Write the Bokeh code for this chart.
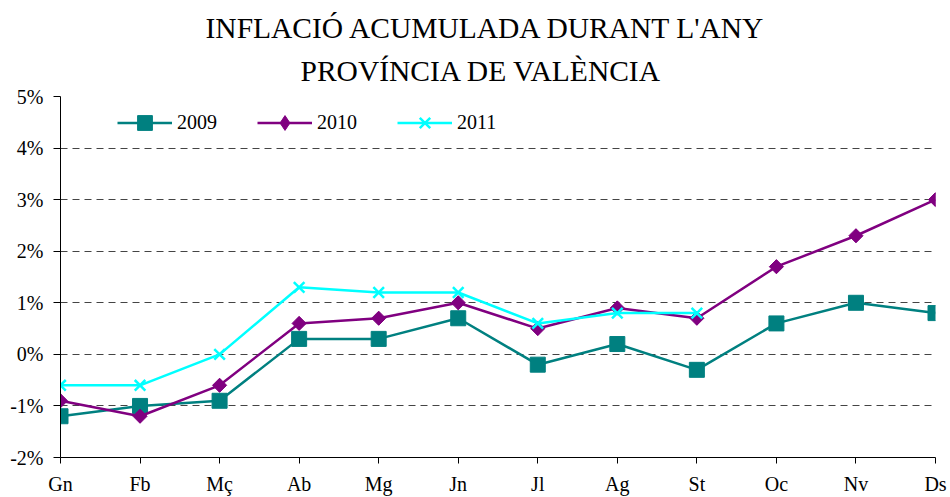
import math
from bokeh.plotting import figure
from bokeh.models import Range1d, FixedTicker, Title, LegendItem, Legend
from bokeh.embed import file_html
from bokeh.resources import INLINE

# ---- data ----
months = ["Gn", "Fb", "Mç", "Ab", "Mg", "Jn", "Jl", "Ag", "St", "Oc", "Nv", "Ds"]
y2009 = [-1.2, -1.0, -0.9, 0.3, 0.3, 0.7, -0.2, 0.2, -0.3, 0.6, 1.0, 0.8]
y2010 = [-0.9, -1.2, -0.6, 0.6, 0.7, 1.0, 0.5, 0.9, 0.7, 1.7, 2.3, 3.0]
y2011 = [-0.6, -0.6, 0.0, 1.3, 1.2, 1.2, 0.6, 0.8, 0.8]
y_ticks = [-2, -1, 0, 1, 2, 3, 4, 5]
y_tick_labels = ["-2%", "-1%", "0%", "1%", "2%", "3%", "4%", "5%"]
title_line1 = "INFLACIÓ ACUMULADA DURANT L'ANY"
title_line2 = "PROVÍNCIA DE VALÈNCIA"

FONT = "Liberation Serif"

p = figure(width=950, height=497, output_backend="svg", toolbar_location=None,
           x_range=Range1d(0, len(months) - 1), y_range=Range1d(y_ticks[0], y_ticks[-1]),
           min_border_left=60, min_border_right=15, min_border_top=96, min_border_bottom=40)
p.background_fill_color = "white"
p.border_fill_color = "white"
p.outline_line_color = None
p.title = None

# two-line title (line 2 nearest the plot)
p.add_layout(Title(text=title_line2, align="left", offset=240, standoff=19,
                   text_font=FONT, text_font_size="29.5px", text_font_style="normal",
                   text_color="black"), "above")
p.add_layout(Title(text=title_line1, align="left", offset=145, standoff=0,
                   text_font=FONT, text_font_size="29.5px", text_font_style="normal",
                   text_color="black"), "above")

# axes
xs = list(range(len(months)))
p.xaxis.ticker = FixedTicker(ticks=xs)
p.xaxis.major_label_overrides = {i: m for i, m in zip(xs, months)}
p.xaxis.major_label_text_font = FONT
p.xaxis.major_label_text_font_size = "20px"
p.xaxis.major_label_text_color = "black"
p.xaxis.major_label_standoff = 9
p.xaxis.major_tick_out = 6
p.xaxis.major_tick_in = 0
p.xaxis.minor_tick_line_color = None
p.xaxis.axis_line_color = "black"
p.xaxis.major_tick_line_color = "black"

p.yaxis.ticker = FixedTicker(ticks=y_ticks)
p.yaxis.major_label_overrides = {t: l for t, l in zip(y_ticks, y_tick_labels)}
p.yaxis.major_label_text_font = FONT
p.yaxis.major_label_text_font_size = "20px"
p.yaxis.major_label_text_color = "black"
p.yaxis.major_label_standoff = 10
p.yaxis.major_tick_out = 7
p.yaxis.major_tick_in = 0
p.yaxis.minor_tick_line_color = None
p.yaxis.axis_line_color = "black"
p.yaxis.major_tick_line_color = "black"

p.xgrid.grid_line_color = None
p.ygrid.grid_line_color = "#444444"
p.ygrid.grid_line_dash = "7 5"
p.ygrid.grid_line_width = 1

# series
l09 = p.line(xs, y2009, line_color="#008080", line_width=2.5)
m09 = p.scatter(xs, y2009, marker="square", size=15, fill_color="#008080",
                line_color="#008080")

l10 = p.line(xs, y2010, line_color="#800080", line_width=2.5)
# diamond used for the legend; covered by the rotated square drawn on top
m10 = p.scatter(xs, y2010, marker="diamond", size=13, fill_color="#800080",
                line_color="#800080")
p.scatter(xs, y2010, marker="square", angle=math.pi / 4, size=10,
          fill_color="#800080", line_color="#800080")

x11 = xs[:len(y2011)]
l11 = p.line(x11, y2011, line_color="#00FFFF", line_width=2.5)
m11 = p.scatter(x11, y2011, marker="x", size=15, line_color="#00FFFF", line_width=2.5)

lg = Legend(items=[LegendItem(label="2009", renderers=[l09, m09]),
                   LegendItem(label="2010", renderers=[l10, m10]),
                   LegendItem(label="2011", renderers=[l11, m11])])
lg.orientation = "horizontal"
lg.location = (57, 316)
lg.border_line_color = None
lg.background_fill_alpha = 0
lg.padding = 0
lg.margin = 0
lg.spacing = 40
lg.glyph_width = 55
lg.glyph_height = 37
lg.label_height = 20
lg.label_standoff = 5
lg.label_text_font = FONT
lg.label_text_font_size = "20px"
lg.label_text_color = "black"
p.add_layout(lg, "center")

open("out.html", "w").write(file_html(p, INLINE))
